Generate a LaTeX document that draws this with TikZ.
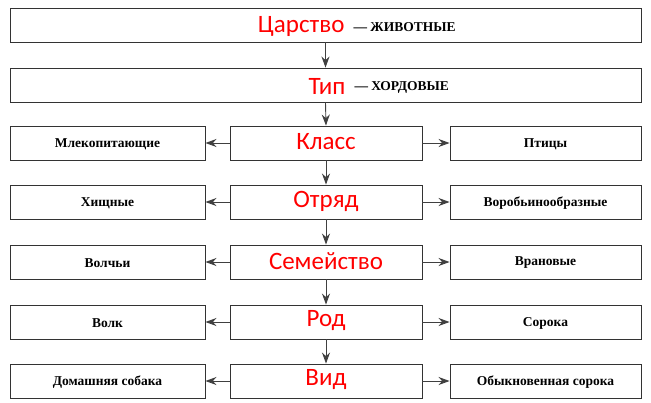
\documentclass[tikz,border=0pt]{standalone}
\usepackage{fontspec}
\setmainfont{Liberation Serif}
\newfontfamily\redf{Carlito}
\usetikzlibrary{arrows.meta}
\tikzset{
 box/.style={draw=black!80,line width=0.9pt,fill=white,inner sep=0},
 lab/.style={font=\redf\fontsize{25}{25}\selectfont,text=red},
 bl/.style={font=\bfseries\fontsize{13.5}{13.5}\selectfont},
 ar/.style={draw=black!75,line width=0.9pt,-{Stealth[length=11pt,width=8pt]}}
}
\begin{document}
\begin{tikzpicture}[x=1pt,y=-1pt]
\useasboundingbox[fill=white] (0,0) rectangle (651,402);
\node[box,minimum width=631,minimum height=34] (t1) at (325.5,25) {};
\node[lab,anchor=east] (l1) at (348,26) {Царство};
\node[bl,anchor=west] (r1) at (350,27) {— ЖИВОТНЫЕ};
\node[box,minimum width=631,minimum height=34] (t2) at (325.5,85) {};
\node[lab,anchor=east] (l2) at (349,86) {Тип};
\node[bl,anchor=west] (r2) at (351,87) {— ХОРДОВЫЕ};
\draw[ar] (t1.south) -- (t2.north);
\foreach \n/\y/\c/\l/\r in {
 c1/143/Класс/Млекопитающие/Птицы,
 c2/202/Отряд/Хищные/Воробьинообразные,
 c3/262/Семейство/Волчьи/Врановые,
 c4/322/Род/Волк/Сорока,
 c5/381/Вид/Домашняя собака/Обыкновенная сорока}{
 \node[box,minimum width=192,minimum height=34] (\n) at (326,\y) {};
 \node[lab] at ([yshift=1pt]\n) {\c};
 \node[box,minimum width=195,minimum height=34] (\n l) at (107.5,\y) {};
 \node[bl] at ([yshift=-1pt]\n l) {\l};
 \node[box,minimum width=191,minimum height=34] (\n r) at (545.5,\y) {};
 \node[bl] at ([yshift=-1pt]\n r) {\r};
 \draw[ar] (\n.west) -- (\n l.east);
 \draw[ar] (\n.east) -- (\n r.west);
}
\draw[ar] (t2.south) -- (c1.north);
\draw[ar] (c1) -- (c2);
\draw[ar] (c2) -- (c3);
\draw[ar] (c3) -- (c4);
\draw[ar] (c4) -- (c5);
\end{tikzpicture}
\end{document}
